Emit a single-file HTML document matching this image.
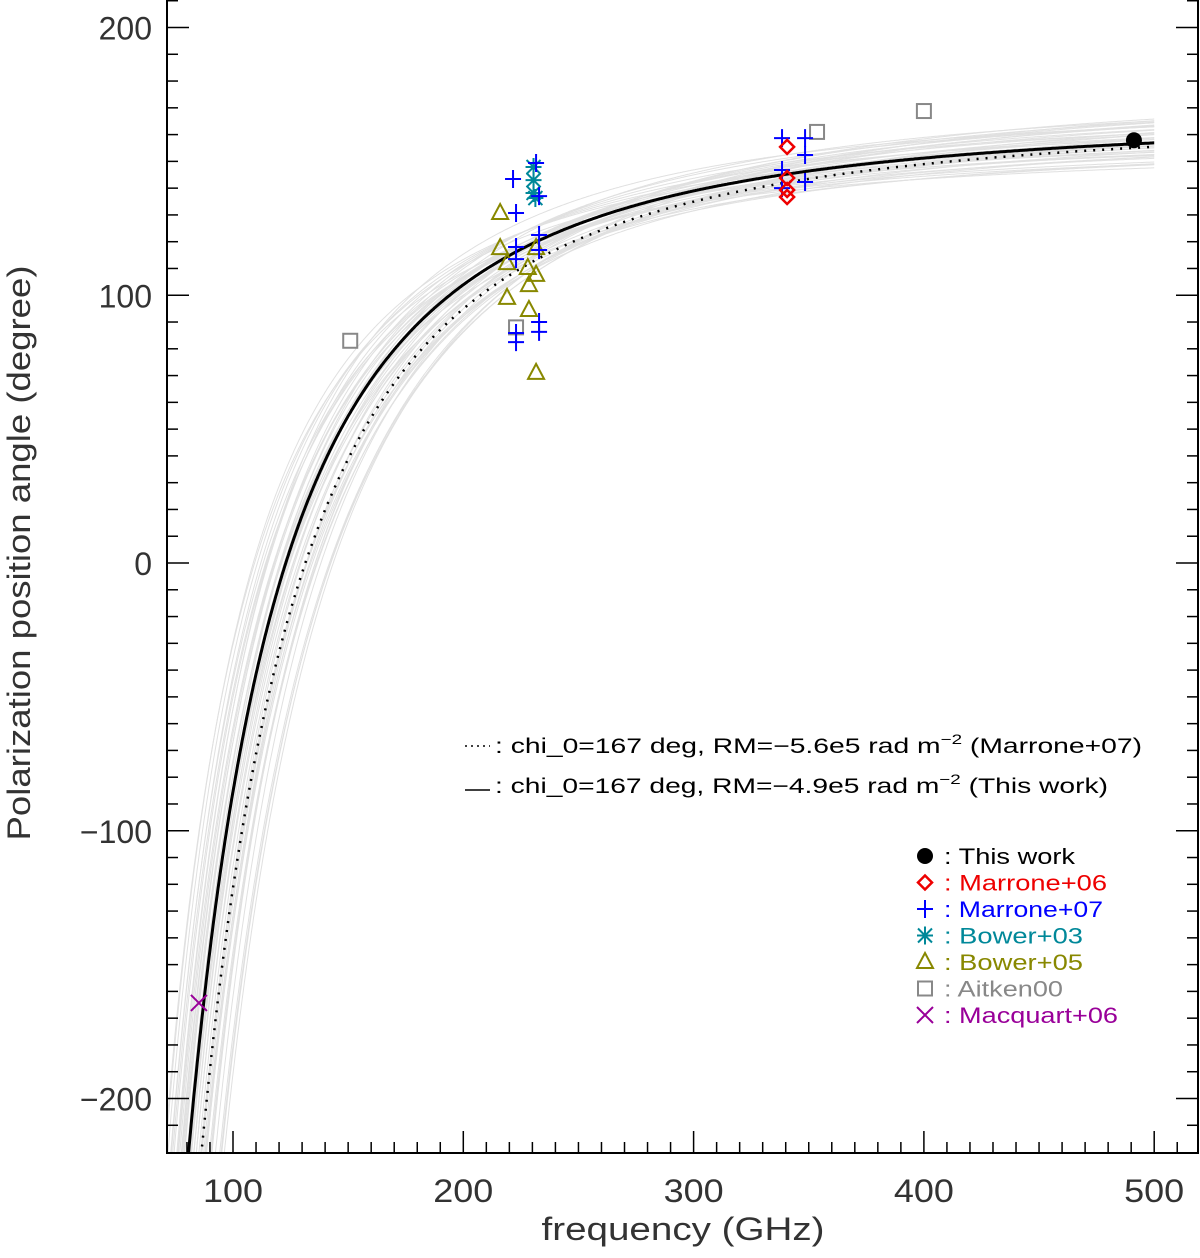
<!DOCTYPE html>
<html><head><meta charset="utf-8"><style>
body{margin:0;background:#fff;overflow:hidden;}
svg{display:block;font-family:"Liberation Sans",sans-serif;}
</style></head><body>
<svg id="chart" width="1200" height="1258" viewBox="0 0 1200 1258" xmlns="http://www.w3.org/2000/svg">
<defs><clipPath id="pc"><rect x="167" y="0" width="1031" height="1153"/></clipPath></defs>
<g id="gray" clip-path="url(#pc)"></g>
<g id="marks"></g>
<g id="axes"></g>
<text x="495" y="753" font-size="21" fill="#000" textLength="647" lengthAdjust="spacingAndGlyphs">: chi_0=167 deg, RM=−5.6e5 rad m<tspan dy="-9" font-size="14">−2</tspan><tspan dy="9"> (Marrone+07)</tspan></text>
<line x1="465" y1="746" x2="490" y2="746" stroke="#000" stroke-width="1.5" stroke-dasharray="2,4"/>
<text x="495" y="793" font-size="21" fill="#000" textLength="613" lengthAdjust="spacingAndGlyphs">: chi_0=167 deg, RM=−4.9e5 rad m<tspan dy="-9" font-size="14">−2</tspan><tspan dy="9"> (This work)</tspan></text>
<line x1="465" y1="790" x2="490" y2="790" stroke="#000" stroke-width="1.5"/>
<g id="legend"></g>
<text x="683" y="1240" font-size="32" text-anchor="middle" fill="#333" textLength="283" lengthAdjust="spacingAndGlyphs">frequency (GHz)</text>
<text transform="translate(30,553) rotate(-90)" font-size="32" text-anchor="middle" fill="#333" textLength="575" lengthAdjust="spacingAndGlyphs">Polarization position angle (degree)</text>
</svg>
<script>
const NS="http://www.w3.org/2000/svg";
const grayChi0=[155,157,158,160,161,162,163,164,165,166,167,168,169,170,171,172,173,174,175,176,177,178,179,180,158,162,165,168,171,174,160,164,167,170,173,176,163,169,175,166,161,172,178,159,167];
const grayRM=[-3.6e5,-3.9e5,-4.0e5,-4.3e5,-4.1e5,-4.6e5,-4.4e5,-4.8e5,-4.5e5,-5.0e5,-4.7e5,-5.2e5,-4.9e5,-5.5e5,-5.1e5,-5.8e5,-5.4e5,-6.0e5,-5.7e5,-6.3e5,-6.0e5,-6.6e5,-6.4e5,-7.2e5,-4.5e5,-5.0e5,-5.6e5,-5.9e5,-6.2e5,-6.8e5,-3.8e5,-4.0e5,-4.3e5,-4.6e5,-4.9e5,-5.3e5,-5.5e5,-6.1e5,-6.9e5,-5.3e5,-3.7e5,-4.4e5,-7.0e5,-4.8e5,-5.8e5];
const fitChi0=[167,167];
const fitRM=[-4.9e5,-5.6e5];
const thisWorkF=[491.2], thisWorkA=[157.9];
const m06F=[340.6,340.6,340.6,340.6], m06A=[155.4,143.8,139.3,136.7];
const m07F=[221.6,222.9,222.9,222.9,222.9,222.9,231.6,232.9,232.9,232.9,232.9,232.9,338.4,348.4,348.4,338.4,348.4,338.4];
const m07A=[143.4,130.7,118,113.5,85.9,82.5,149.4,137,122.5,116.9,90,86.3,158.7,158.7,152.4,146.8,142.3,140];
const b03F=[230.5,230.5,230.5,231.3], b03A=[147.9,143,138.2,136.3];
const b05F=[216,216,219,219,228,231.6,228.5,231.6,228.5,231.6], b05A=[130.7,117.6,112,99,110.2,107.6,103.8,117.6,94.5,71];
const aitF=[400,353.6,150.9,222.9], aitA=[168.8,161,83,88];
const macF=[85.2], macA=[-164.3];
const xTicks=[100,200,300,400,500], yTicks=[-200,-100,0,100,200];

const X=f=>233+(f-100)*2.303, Y=a=>563-a*2.6775;
function el(t,a,p){const e=document.createElementNS(NS,t);for(const k in a)e.setAttribute(k,a[k]);p.appendChild(e);return e;}
function model(c0,rm,f){const l=2.998e8/(f*1e9);return c0+rm*l*l*180/Math.PI;}
function curve(c0,rm){let d="";for(let f=60;f<=500;f+=0.5){const y=Math.max(-5000,Math.min(5000,Y(model(c0,rm,f))));d+=(d?"L":"M")+X(f).toFixed(1)+","+y.toFixed(1);}return d;}
const gray=document.getElementById('gray');
grayChi0.forEach((c,i)=>{const p=el('path',{d:curve(c,grayRM[i]),fill:'none',stroke:'#e0e0e0','stroke-width':1},gray);

});
const f1=el('path',{d:curve(fitChi0[1],fitRM[1]),fill:'none',stroke:'#000','stroke-width':2.5,'stroke-dasharray':'2,7'},gray);


const f0=el('path',{d:curve(fitChi0[0],fitRM[0]),fill:'none',stroke:'#000','stroke-width':3},gray);



function sym(kind,x,y,g){
 if(kind==='dot')return el('circle',{cx:x,cy:y,r:8,fill:'#000'},g);
 if(kind==='dia')return el('path',{d:`M${x},${y-7}L${x+7},${y}L${x},${y+7}L${x-7},${y}Z`,fill:'none',stroke:'#e00','stroke-width':2.5},g);
 if(kind==='plus')return el('path',{d:`M${x-8},${y}H${x+8}M${x},${y-9}V${y+9}`,stroke:'#00f','stroke-width':2},g);
 if(kind==='ast')return el('path',{d:`M${x-8},${y}H${x+8}M${x},${y-9}V${y+9}M${x-7},${y-7}L${x+7},${y+7}M${x-7},${y+7}L${x+7},${y-7}`,stroke:'#089','stroke-width':2},g);
 if(kind==='tri')return el('path',{d:`M${x},${y-9}L${x+8},${y+6}L${x-8},${y+6}Z`,fill:'none',stroke:'#888800','stroke-width':2},g);
 if(kind==='sq')return el('rect',{x:x-7,y:y-7,width:14,height:14,fill:'none',stroke:'#888','stroke-width':2},g);
 if(kind==='x')return el('path',{d:`M${x-8},${y-8}L${x+8},${y+8}M${x-8},${y+8}L${x+8},${y-8}`,stroke:'#909','stroke-width':2},g);
}
const marks=document.getElementById('marks');
const sets=[['sq',aitF,aitA,'aitken00-point'],['tri',b05F,b05A,'bower05-point'],['ast',b03F,b03A,'bower03-point'],['plus',m07F,m07A,'marrone07-point'],['dia',m06F,m06A,'marrone06-point'],['x',macF,macA,'macquart06-point'],['dot',thisWorkF,thisWorkA,'this-work-point']];
sets.forEach(s=>s[1].forEach((f,i)=>{const e=sym(s[0],X(f),Y(s[2][i]),marks);

}));

const ax=document.getElementById('axes');
el('path',{d:'M167,0V1153H1198V0',fill:'none',stroke:'#000','stroke-width':2},ax);
for(let f=80;f<=510;f+=10){const mj=f%100===0,L=mj?22:11;el('line',{x1:X(f),x2:X(f),y1:1153,y2:1153-L,stroke:'#000','stroke-width':1.5},ax);}
for(let a=-210;a<=210;a+=10){const mj=a%100===0,L=mj?22:11,y=Y(a);el('line',{x1:167,x2:167+L,y1:y,y2:y,stroke:'#000','stroke-width':1.5},ax);el('line',{x1:1198,x2:1198-L,y1:y,y2:y,stroke:'#000','stroke-width':1.5},ax);}
xTicks.forEach(v=>{const t=el('text',{x:X(v),y:1202,'font-size':32,'text-anchor':'middle',fill:'#333',textLength:60,lengthAdjust:'spacingAndGlyphs'},ax);t.textContent=v;

});
yTicks.forEach(v=>{const s=v<0?'−'+(-v):String(v);const t=el('text',{x:152,y:Y(v)+12,'font-size':32,'text-anchor':'end',fill:'#333'},ax);t.textContent=s;

});

const lg=document.getElementById('legend');
const items=[['dot','This work','#000',131],['dia','Marrone+06','#e00',163],['plus','Marrone+07','#00f',159],['ast','Bower+03','#089',139],['tri','Bower+05','#888800',139],['sq','Aitken00','#888',119],['x','Macquart+06','#909',174]];
items.forEach((it,i)=>{const y=856+i*26.5;const s=sym(it[0],925,y,lg);if(it[0]==='dot')s.setAttribute('r',8);


const t=el('text',{x:944,y:y+8,'font-size':22,fill:it[2],textLength:it[3],lengthAdjust:'spacingAndGlyphs'},lg);t.textContent=': '+it[1];

});
</script>
</body></html>
